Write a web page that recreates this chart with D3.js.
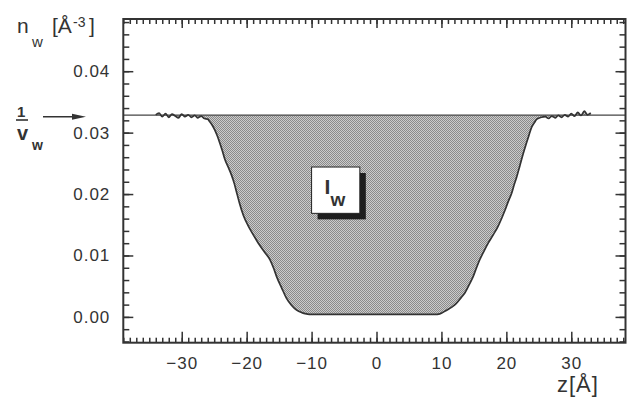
<!DOCTYPE html>
<html>
<head>
<meta charset="utf-8">
<script src="https://cdn.jsdelivr.net/npm/d3@7"></script>
<style>
  body { margin: 0; background: #fff; }
  text { font-family: "Liberation Sans", Arial, sans-serif; fill: #333; }
</style>
</head>
<body>
<svg width="636" height="406"></svg>
<script>
// water density profile n_w(z)
const zValues = [
  -34, -33.5, -33, -32.5, -32, -31.5, -31, -30.5, -30, -29.5, -29, -28.5, -28, -27.5, -27, -26.5,
  -26, -25.7, -25.3, -24.9, -24.5, -24.1, -23.7, -23.4, -22.8, -22.3, -21.9, -21.6, -21.1, -20.5,
  -19.8, -19, -18.2, -17.2, -16.4, -15.8, -15.4, -14.6, -13.9, -13.1, -12.3, -11.5, -10.8, -10,
  -5, 0, 5, 9, 9.75, 10.8, 11.6, 12.3, 13, 13.6, 14.3, 14.9, 15.4, 15.9, 16.5, 17.2, 18, 18.7,
  19.3, 19.8, 20.3, 20.8, 21.2, 21.6, 22.1, 22.6, 23, 23.4, 23.9, 24.3, 24.7, 25.4, 26,
  26.5, 27, 27.5, 28, 28.5, 29, 29.5, 30, 30.5, 31, 31.5, 32, 32.5, 33
];
const nValues = [
  0.0329, 0.0332, 0.0326, 0.0331, 0.0325, 0.0330, 0.0327, 0.0324, 0.0330, 0.0326, 0.0329, 0.0325, 0.0328, 0.0324, 0.0327, 0.0323,
  0.0322, 0.0318, 0.0312, 0.0304, 0.0294, 0.0282, 0.0269, 0.0258, 0.0243, 0.0230, 0.0217, 0.0205, 0.0185, 0.0165,
  0.0149, 0.0134, 0.0120, 0.0105, 0.0093, 0.0078, 0.0066, 0.0047, 0.0031, 0.0019, 0.0011, 0.0007, 0.0005, 0.0004,
  0.0004, 0.0004, 0.0004, 0.0004, 0.0005, 0.0011, 0.0016, 0.0022, 0.0031, 0.0039, 0.0053, 0.0066, 0.0080, 0.0093, 0.0106, 0.0120, 0.0134, 0.0147,
  0.0161, 0.0174, 0.0188, 0.0201, 0.0215, 0.0228, 0.0247, 0.0266, 0.0280, 0.0293, 0.0309, 0.0316, 0.0322, 0.0325, 0.0326,
  0.0323, 0.0327, 0.0324, 0.0328, 0.0325, 0.0329, 0.0326, 0.0331, 0.0327, 0.0333, 0.0328, 0.0335, 0.0329, 0.0332
];
const bulkDensity = 0.03285; // 1/v_w

const xMajorTicks = [-30, -20, -10, 0, 10, 20, 30];
const xMinorTicks = d3.range(-39, 39, 1);
const yMajorTicks = [0, 0.01, 0.02, 0.03, 0.04];
const yMinorTicks = d3.range(-0.004, 0.0485, 0.002);

const data = zValues.map((z, i) => ({ z: z, n: nValues[i] }));

let svg = d3.select("svg");

let x = d3.scaleLinear().domain([-39, 38.35]).range([123.3, 625.5]);
let y = d3.scaleLinear().domain([-0.0042, 0.0485]).range([342.7, 19]);

let [x0, x1] = x.range();
let [y0, y1] = y.range();

// halftone-like fill
let defs = svg.append("defs");
let pat = defs.append("pattern")
  .attr("id", "stipple")
  .attr("width", 2).attr("height", 2)
  .attr("patternUnits", "userSpaceOnUse");
pat.append("rect").attr("width", 2).attr("height", 2).attr("fill", "#cbcbcb");
pat.append("rect").attr("width", 1).attr("height", 1).attr("fill", "#8a8a8a");
pat.append("rect").attr("x", 1).attr("y", 1).attr("width", 1).attr("height", 1).attr("fill", "#8a8a8a");

// shaded area between 1/v_w and n_w(z)
let area = d3.area()
  .x(d => x(d.z))
  .y0(y(bulkDensity))
  .y1(d => y(d.n))
  .curve(d3.curveMonotoneX);

svg.append("path")
  .datum(data)
  .attr("d", area)
  .attr("fill", "url(#stipple)");

// bulk line across the whole plot
svg.append("line")
  .attr("x1", x0).attr("x2", x1)
  .attr("y1", y(bulkDensity)).attr("y2", y(bulkDensity))
  .attr("stroke", "#444").attr("stroke-width", 1.2);

// profile curve
let line = d3.line().x(d => x(d.z)).y(d => y(d.n)).curve(d3.curveMonotoneX);
svg.append("path")
  .datum(data)
  .attr("d", line)
  .attr("fill", "none")
  .attr("stroke", "#333")
  .attr("stroke-width", 1.7)
  .attr("stroke-linejoin", "round");

// I_w box with drop shadow
let bx = x(-10), by = y(0.0244);
let bw = x(-2.57) - x(-10), bh = y(0.01686) - y(0.0244);
svg.append("rect")
  .attr("x", bx + 6).attr("y", by + 6)
  .attr("width", bw).attr("height", bh)
  .attr("fill", "#1e1e1e");
svg.append("rect")
  .attr("x", bx).attr("y", by)
  .attr("width", bw).attr("height", bh)
  .attr("fill", "#fff").attr("stroke", "#222").attr("stroke-width", 1);
svg.append("text")
  .attr("x", bx + 13).attr("y", by + 27)
  .attr("font-size", 21).attr("font-weight", "bold")
  .text("I");
svg.append("text")
  .attr("x", bx + 19).attr("y", by + 38.5)
  .attr("font-size", 19).attr("font-weight", "bold")
  .text("w");

// axes: ticks point inward on all four sides
function styleAxis(g) {
  g.select(".domain").remove();
  g.selectAll(".tick line").attr("stroke", "#333").attr("stroke-width", 1.5);
  g.selectAll(".tick text")
    .attr("font-size", 17)
    .attr("letter-spacing", 1)
    .attr("fill", "#333")
    .style("font-family", "'Liberation Sans', Arial, sans-serif");
}

svg.append("g").attr("transform", `translate(0,${y0})`)
  .call(d3.axisBottom(x).tickValues(xMinorTicks).tickSize(-5).tickFormat(""))
  .call(styleAxis);
svg.append("g").attr("transform", `translate(0,${y0})`)
  .call(d3.axisBottom(x).tickValues(xMajorTicks).tickSize(-11).tickPadding(14).tickFormat(d3.format("d")))
  .call(styleAxis);

svg.append("g").attr("transform", `translate(0,${y1})`)
  .call(d3.axisTop(x).tickValues(xMinorTicks).tickSize(-5).tickFormat(""))
  .call(styleAxis);
svg.append("g").attr("transform", `translate(0,${y1})`)
  .call(d3.axisTop(x).tickValues(xMajorTicks).tickSize(-9).tickFormat(""))
  .call(styleAxis);

svg.append("g").attr("transform", `translate(${x0},0)`)
  .call(d3.axisLeft(y).tickValues(yMinorTicks).tickSize(-6).tickFormat(""))
  .call(styleAxis);
svg.append("g").attr("transform", `translate(${x0},0)`)
  .call(d3.axisLeft(y).tickValues(yMajorTicks).tickSize(-10).tickPadding(13).tickFormat(d3.format(".2f")))
  .call(styleAxis);

svg.append("g").attr("transform", `translate(${x1},0)`)
  .call(d3.axisRight(y).tickValues(yMinorTicks).tickSize(-6).tickFormat(""))
  .call(styleAxis);
svg.append("g").attr("transform", `translate(${x1},0)`)
  .call(d3.axisRight(y).tickValues(yMajorTicks).tickSize(-10).tickFormat(""))
  .call(styleAxis);

// frame
svg.append("rect")
  .attr("x", x0).attr("y", y1)
  .attr("width", x1 - x0).attr("height", y0 - y1)
  .attr("fill", "none").attr("stroke", "#333").attr("stroke-width", 2);

// y axis title: n_w [Å-3]
svg.append("text").attr("x", 17).attr("y", 33).attr("font-size", 21).text("n");
svg.append("text").attr("x", 32).attr("y", 47).attr("font-size", 15).text("w");
svg.append("text").attr("x", 52).attr("y", 33).attr("font-size", 21).text("[Å");
svg.append("text").attr("x", 73).attr("y", 27).attr("font-size", 14).text("-3");
svg.append("text").attr("x", 89).attr("y", 33).attr("font-size", 21).text("]");

// x axis title
svg.append("text").attr("x", 557).attr("y", 392).attr("font-size", 22)
  .attr("letter-spacing", 1).text("z[Å]");

// 1/v_w marker with arrow
let ay = y(bulkDensity) + 1.7;
svg.append("text").attr("x", 17).attr("y", 117).attr("font-size", 15).attr("font-weight", "bold").text("1");
svg.append("line").attr("x1", 16).attr("x2", 28).attr("y1", 120).attr("y2", 120)
  .attr("stroke", "#333").attr("stroke-width", 1.6);
svg.append("text").attr("x", 17).attr("y", 140).attr("font-size", 20).attr("font-weight", "bold").text("v");
svg.append("text").attr("x", 32).attr("y", 150).attr("font-size", 14).attr("font-weight", "bold").text("w");
svg.append("line").attr("x1", 43).attr("x2", 76).attr("y1", ay).attr("y2", ay)
  .attr("stroke", "#333").attr("stroke-width", 1.5);
svg.append("path")
  .attr("d", `M72,${ay - 3}L86,${ay}L72,${ay + 3}Z`)
  .attr("fill", "#333");
</script>
</body>
</html>
